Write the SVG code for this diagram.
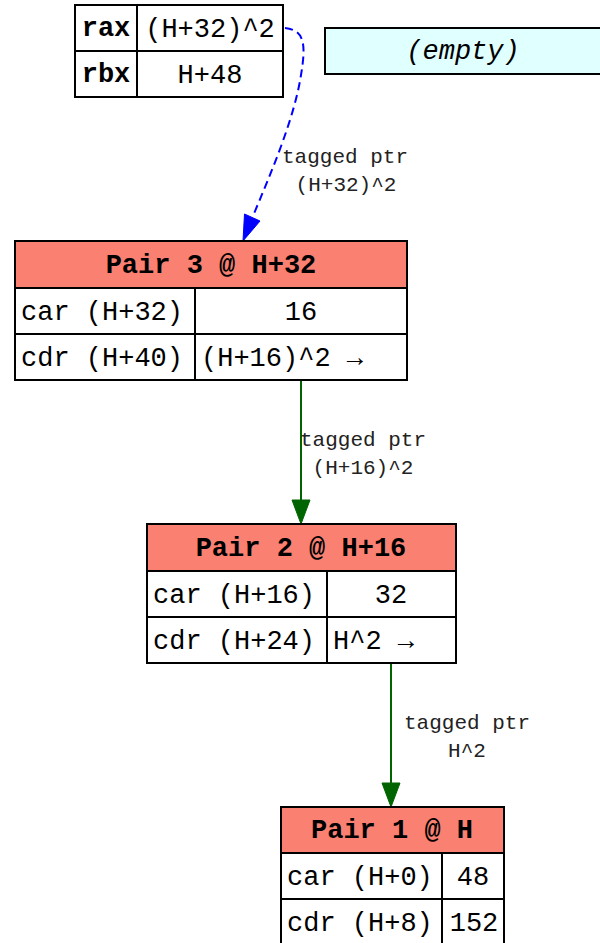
<svg xmlns="http://www.w3.org/2000/svg" width="600" height="943" viewBox="0 0 600 943">
<style>
  text { font-family: "Liberation Mono", "Courier New", monospace; fill: #000; }
  .t { font-size: 27px; }
  .b { font-weight: bold; }
  .lbl { font-size: 21px; fill: #222; }
  .cell { fill: #fff; stroke: #000; stroke-width: 2; }
  .hdr { fill: #fa8072; stroke: #000; stroke-width: 2; }
  .mid { text-anchor: middle; }
</style>

<g id="edges">
  <path d="M285,28 C305,30 306,45 301,75 C294,120 270,175 253,216" fill="none" stroke="#0000ff" stroke-width="2" stroke-dasharray="8,5"/>
  <polygon points="243,241 244.5,214 260,221" fill="#0000ff" stroke="#0000ff" stroke-width="1"/>
  <text class="lbl mid" x="345" y="163">tagged ptr</text>
  <text class="lbl mid" x="346" y="191">(H+32)^2</text>

  <line x1="301" y1="380" x2="301" y2="502" stroke="#006400" stroke-width="2"/>
  <polygon points="301,524 292,500 310,500" fill="#006400" stroke="#006400" stroke-width="1"/>
  <text class="lbl mid" x="363" y="446">tagged ptr</text>
  <text class="lbl mid" x="363" y="474">(H+16)^2</text>

  <line x1="391" y1="663" x2="391" y2="785" stroke="#006400" stroke-width="2"/>
  <polygon points="391,807 382,783 400,783" fill="#006400" stroke="#006400" stroke-width="1"/>
  <text class="lbl mid" x="467" y="729">tagged ptr</text>
  <text class="lbl mid" x="467" y="757">H^2</text>
</g>

<g id="registers">
  <rect class="cell" x="75" y="5" width="62" height="46"/>
  <rect class="cell" x="137" y="5" width="146" height="46"/>
  <rect class="cell" x="75" y="51" width="62" height="46"/>
  <rect class="cell" x="137" y="51" width="146" height="46"/>
  <text class="t b mid" x="106" y="36">rax</text>
  <text class="t mid" x="210" y="37">(H+32)^2</text>
  <text class="t b mid" x="106" y="82">rbx</text>
  <text class="t mid" x="210" y="83">H+48</text>
</g>

<g id="empty">
  <rect x="325" y="28" width="277" height="46" fill="#e0ffff" stroke="#000" stroke-width="2"/>
  <text class="t mid" x="463" y="59" font-style="italic">(empty)</text>
</g>

<g id="pair3">
  <rect class="hdr" x="15" y="241" width="392" height="47"/>
  <rect class="cell" x="15" y="288" width="180" height="46"/>
  <rect class="cell" x="195" y="288" width="212" height="46"/>
  <rect class="cell" x="15" y="334" width="180" height="46"/>
  <rect class="cell" x="195" y="334" width="212" height="46"/>
  <text class="t b mid" x="211" y="273">Pair 3 @ H+32</text>
  <text class="t" x="21" y="320">car (H+32)</text>
  <text class="t mid" x="301" y="320">16</text>
  <text class="t" x="21" y="366">cdr (H+40)</text>
  <text class="t" x="201" y="366">(H+16)^2 →</text>
</g>

<g id="pair2">
  <rect class="hdr" x="147" y="524" width="309" height="47"/>
  <rect class="cell" x="147" y="571" width="180" height="46"/>
  <rect class="cell" x="327" y="571" width="129" height="46"/>
  <rect class="cell" x="147" y="617" width="180" height="46"/>
  <rect class="cell" x="327" y="617" width="129" height="46"/>
  <text class="t b mid" x="301" y="556">Pair 2 @ H+16</text>
  <text class="t" x="153" y="603">car (H+16)</text>
  <text class="t mid" x="391" y="603">32</text>
  <text class="t" x="153" y="649">cdr (H+24)</text>
  <text class="t" x="333" y="649">H^2 →</text>
</g>

<g id="pair1">
  <rect class="hdr" x="281" y="807" width="223" height="46"/>
  <rect class="cell" x="281" y="853" width="161" height="46"/>
  <rect class="cell" x="442" y="853" width="62" height="46"/>
  <rect class="cell" x="281" y="899" width="161" height="46"/>
  <rect class="cell" x="442" y="899" width="62" height="46"/>
  <text class="t b mid" x="392" y="838">Pair 1 @ H</text>
  <text class="t" x="287" y="885">car (H+0)</text>
  <text class="t mid" x="473" y="885">48</text>
  <text class="t" x="287" y="931">cdr (H+8)</text>
  <text class="t mid" x="474" y="931">152</text>
</g>
</svg>
